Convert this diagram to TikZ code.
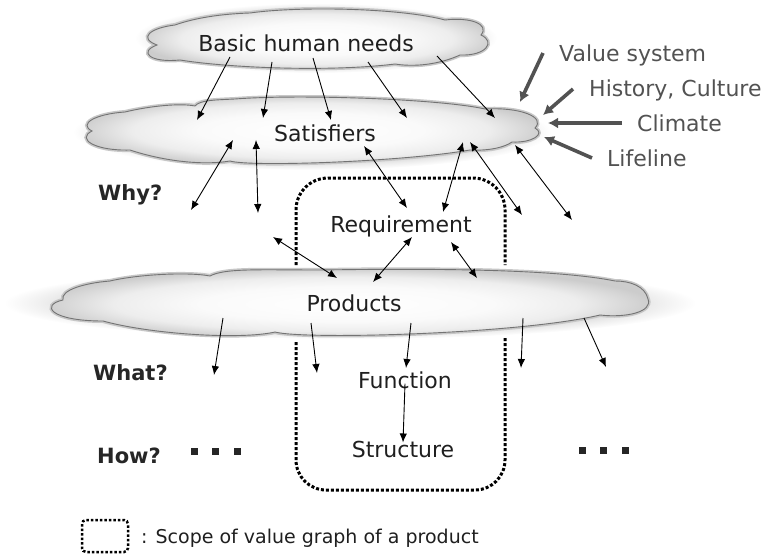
\documentclass[tikz,border=0pt]{standalone}
\usepackage{fontspec}
\setmainfont{DejaVu Sans}
\usetikzlibrary{shapes.geometric,arrows.meta}
\pgfdeclareradialshading{cloudshade}{\pgfpoint{0bp}{0bp}}{color(0bp)=(white); color(12bp)=(white!98!black); color(19bp)=(white!93!black); color(25bp)=(white!80!black); color(50bp)=(white!80!black)}
\pgfdeclareradialshading{haloshade}{\pgfpoint{0bp}{0bp}}{color(0bp)=(white!80!black); color(18bp)=(white!82!black); color(22bp)=(white!93!black); color(25bp)=(white); color(50bp)=(white)}
\begin{document}
\begin{tikzpicture}[x=1pt,y=-1pt,
  cloudfill/.style={shade, shading=cloudshade, draw=black!55, line width=0.9pt,
    preaction={draw=black!22, line width=4pt}},
  halo/.style={shape=ellipse, inner sep=0pt, shade, shading=haloshade},
  lbl/.style={font=\fontsize{22}{26}\selectfont, text=black!88, inner sep=0pt, anchor=base},
  qlbl/.style={font=\fontsize{21}{25}\selectfont\bfseries, text=black!85, inner sep=0pt, anchor=base west},
  ext/.style={font=\fontsize{22}{26}\selectfont, text=black!68, inner sep=0pt, anchor=base west},
  arr/.style={-{Latex[length=9pt,width=7.5pt]}, line width=0.9pt},
  darr/.style={{Latex[length=9pt,width=7.5pt]}-{Latex[length=9pt,width=7.5pt]}, line width=0.9pt},
  garr/.style={-{Latex[length=10pt,width=11pt]}, line width=3.6pt, draw=black!68},
  dotbox/.style={line width=3pt, dash pattern=on 3pt off 2pt},
  sq/.style={rectangle, fill=black!85, minimum size=7pt, inner sep=0pt}
]
\useasboundingbox (0,0) rectangle (767,556);

% halos
\node[halo, minimum width=362pt, minimum height=70pt] (hA) at (316,38) {};
\node[halo, minimum width=478pt, minimum height=76pt] (hB) at (312,132) {};
\node[halo, minimum width=692pt, minimum height=72pt] (hC) at (350,303) {};

% clouds (drawn shapes)
\path[cloudfill] (175,25) .. controls (150,28) and (138,38) .. (157,45)
  .. controls (138,52) and (150,63) .. (180,60)
  .. controls (230,68) and (330,72) .. (395,64)
  .. controls (420,68) and (445,62) .. (460,55)
  .. controls (486,56) and (496,42) .. (481,35)
  .. controls (490,24) and (470,17) .. (445,20)
  .. controls (400,8) and (300,6) .. (250,13)
  .. controls (220,14) and (195,18) .. (175,25) -- cycle;

\path[cloudfill] (125,112) .. controls (95,114) and (78,124) .. (92,131)
  .. controls (76,139) and (95,151) .. (130,150)
  .. controls (160,160) and (200,166) .. (230,161)
  .. controls (250,167) and (400,162) .. (470,150)
  .. controls (490,151) and (505,147) .. (512,142)
  .. controls (532,143) and (546,134) .. (535,128)
  .. controls (546,117) and (520,107) .. (485,109)
  .. controls (440,99) and (300,94) .. (235,99)
  .. controls (215,100) and (200,100) .. (195,106)
  .. controls (180,103) and (150,106) .. (125,112) -- cycle;

\path[cloudfill] (110,281) .. controls (85,283) and (60,290) .. (63,300)
  .. controls (40,305) and (50,321) .. (103,321)
  .. controls (150,334) and (240,340) .. (275,332)
  .. controls (305,340) and (520,334) .. (600,315)
  .. controls (626,318) and (653,312) .. (648,299)
  .. controls (645,286) and (630,281) .. (615,281)
  .. controls (560,270) and (450,268) .. (320,270)
  .. controls (260,270) and (225,268) .. (210,276)
  .. controls (190,272) and (140,274) .. (110,281) -- cycle;

% scope box
\draw[dotbox, rounded corners=32pt] (296,265) -- (296,178) -- (505,178) -- (505,265);
\draw[dotbox, rounded corners=30pt] (296,342) -- (296,490) -- (505,490) -- (505,337);

% texts
\node[lbl] (bhn) at (306,52) {Basic human needs};
\node[lbl] (sat) at (325,142) {Satisfiers};
\node[lbl] (req) at (401,232) {Requirement};
\node[lbl] (prod) at (354,311) {Products};
\node[lbl] (fun) at (405,388) {Function};
\node[lbl] (str) at (403,457) {Structure};

\node[qlbl] (why) at (98,200) {Why?};
\node[qlbl] (what) at (93,380) {What?};
\node[qlbl] (how) at (97,463) {How?};

\node[ext] (vs) at (559,62) {Value system};
\node[ext] (hc) at (589,97) {History, Culture};
\node[ext] (cl) at (637,132) {Climate};
\node[ext] (lf) at (607,167) {Lifeline};

% dots
\node[sq] (d1) at (194,451) {};
\node[sq] (d2) at (215,451) {};
\node[sq] (d3) at (237,451) {};
\node[sq] (d4) at (582,450) {};
\node[sq] (d5) at (603,450) {};
\node[sq] (d6) at (625,450) {};

% coordinates
\coordinate (a1) at (230,57);  \coordinate (b1) at (197,120);
\coordinate (a2) at (272,62);  \coordinate (b2) at (263,118);
\coordinate (a3) at (313,58);  \coordinate (b3) at (331,120);
\coordinate (a4) at (368,62);  \coordinate (b4) at (407,118);
\coordinate (a5) at (437,56);  \coordinate (b5) at (495,118);
\coordinate (a6) at (233,140); \coordinate (b6) at (191,210);
\coordinate (a7) at (256,140); \coordinate (b7) at (258,213);
\coordinate (a8) at (364,146); \coordinate (b8) at (407,208);
\coordinate (a9) at (463,142); \coordinate (b9) at (443,212);
\coordinate (a10) at (470,142); \coordinate (b10) at (522,215);
\coordinate (a11) at (515,145); \coordinate (b11) at (572,220);
\coordinate (a12) at (273,237); \coordinate (b12) at (337,278);
\coordinate (a13) at (412,237); \coordinate (b13) at (373,282);
\coordinate (a14) at (451,242); \coordinate (b14) at (477,278);
\coordinate (a15) at (223,318); \coordinate (b15) at (214,375);
\coordinate (a16) at (311,323); \coordinate (b16) at (317,373);
\coordinate (a17) at (411,323); \coordinate (b17) at (406,368);
\coordinate (a19) at (523,318); \coordinate (b19) at (521,368);
\coordinate (a20) at (584,318); \coordinate (b20) at (606,367);

\coordinate (g1a) at (543,53);  \coordinate (g1b) at (520,102);
\coordinate (g2a) at (573,89);  \coordinate (g2b) at (543,115);
\coordinate (g3a) at (622,123); \coordinate (g3b) at (548,123);
\coordinate (g4a) at (592,158); \coordinate (g4b) at (544,137);

\draw[arr] (a1) -- (b1);
\draw[arr] (a2) -- (b2);
\draw[arr] (a3) -- (b3);
\draw[arr] (a4) -- (b4);
\draw[arr] (a5) -- (b5);
\draw[darr] (a6) -- (b6);
\draw[darr] (a7) -- (b7);
\draw[darr] (a8) -- (b8);
\draw[darr] (a9) -- (b9);
\draw[darr] (a10) -- (b10);
\draw[darr] (a11) -- (b11);
\draw[darr] (a12) -- (b12);
\draw[darr] (a13) -- (b13);
\draw[darr] (a14) -- (b14);
\draw[arr] (a15) -- (b15);
\draw[arr] (a16) -- (b16);
\draw[arr] (a17) -- (b17);
\draw[arr] ([yshift=5pt]fun.south) -- ([yshift=-2pt]str.north);
\draw[arr] (a19) -- (b19);
\draw[arr] (a20) -- (b20);

\draw[garr] (g1a) -- (g1b);
\draw[garr] (g2a) -- (g2b);
\draw[garr] (g3a) -- (g3b);
\draw[garr] (g4a) -- (g4b);

% legend
\draw[line width=2.5pt, dash pattern=on 2.5pt off 2pt, rounded corners=4pt] (82,520) rectangle (128,552);
\node[font=\fontsize{19}{23}\selectfont, text=black!88, inner sep=0pt, anchor=base west] (leg) at (141,543) {: Scope of value graph of a product};
\end{tikzpicture}
\end{document}
